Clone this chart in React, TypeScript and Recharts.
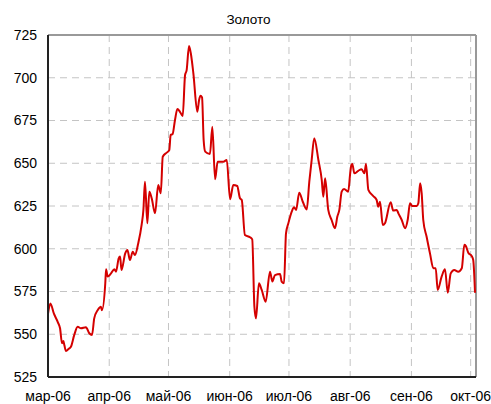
import React from 'react';
import { LineChart, Line, XAxis, YAxis, CartesianGrid, ReferenceLine } from 'recharts';

// day offsets counted from 1 Mar 2006
const days = [
  0, 1.2, 3, 5, 6.1, 7.1, 7.8, 8.3, 9.1, 10.5, 11.6, 13.3, 15, 16.7, 19.2, 20.9, 22.3, 23.4, 25.2, 26.8,
  27.3, 29, 29.4, 30.2, 31.9, 33.6, 34.4, 35.8, 36.5, 37.2, 39.1, 40.2, 41.5, 42.9, 44, 45.7, 47.4, 48.3, 49.1, 50.3,
  51.3, 52.5, 54.2, 55.8, 57.1, 58.1, 60.1, 61.4, 62.1, 63.1, 64.3, 65.5, 66.8, 68.2, 69.4, 70.2, 71.4, 72.3, 73.6, 75.6,
  76.5, 77.2, 78, 78.8, 79.6, 82, 83.2, 84.6, 85.9, 88.8, 90.5, 92.2, 93.8, 95.8, 97.2, 98.1, 99.7, 102.3, 103.4, 104.5,
  105.3, 106.8, 108.2, 110.2, 112.4, 113.6, 114.9, 117.5, 118.3, 119.5, 120.5, 121.7, 123.4, 124.6, 125.6, 127.2, 129, 131, 132.3, 133.5,
  134.8, 136.9, 138.6, 139.4, 140.3, 141.9, 143.6, 145.3, 146.5, 147.5, 148.7, 149.9, 152, 153, 153.6, 154.1, 155.1, 157.1, 158.8, 160.2,
  161, 162.2, 164.7, 166.4, 167.2, 168.1, 169.5, 170.6, 173.5, 174.8, 176.6, 177.4, 179.1, 180.8, 182.1, 183.3, 184.5, 186.7, 187.5, 188.4,
  189.2, 190, 191.7, 193.4, 195.1, 196.3, 197.3, 199.3, 201, 202.4, 203.9, 205.7, 207.7, 209.5, 210.8, 211.5, 212.8, 214.5, 215.3, 216.2,
];

const prices = [
  562, 568, 562, 557, 553.5, 544.7, 546, 543.5, 540.2, 541.5, 542.7, 549.6, 554.4, 553.5, 554.1, 550.6, 549.6, 559.3, 564.2, 566.1,
  564, 579.8, 588, 583.7, 585.6, 588, 586.6, 594.4, 595.4, 587.6, 597.3, 599.3, 593.4, 598.3, 596.3, 603.2, 613.9, 622.7, 639.2, 614.9,
  633.4, 629.5, 620.7, 637.3, 632.4, 653.8, 656.2, 657.7, 666.5, 667.1, 675.3, 681.7, 680.1, 677.6, 701.6, 704.5, 718.6, 714.3, 702.6, 680.1,
  687, 689.5, 688.5, 663.6, 656.8, 655.4, 671.4, 640.6, 650.9, 650.9, 651.9, 628.9, 637.3, 636.7, 629.5, 628.5, 608, 606.7, 605.5, 566.1,
  559.3, 579.8, 575.9, 569, 586.6, 580.8, 584.6, 585.2, 580.8, 579.8, 609, 614.9, 621.7, 624.2, 622.7, 632.8, 627.5, 623, 639.2, 651.9,
  664.6, 651.9, 640.2, 630.4, 641.2, 622.7, 616.8, 612, 618.8, 622.7, 633.4, 634.9, 633.4, 644.1, 649, 649.6, 644.1, 645.6, 646.5, 644.1,
  649.6, 634.4, 630.8, 628.5, 624.6, 627.5, 613.9, 614.9, 627.2, 622.3, 622.7, 620.7, 616.8, 612, 616.8, 626.6, 625, 625, 626.6, 638.3,
  632.4, 616.8, 607, 597.3, 588.6, 588.6, 575.9, 583.7, 588, 574.3, 585.6, 587.6, 586.6, 588.6, 602.3, 601.7, 597.7, 595.8, 593.4, 574.3,
];

const monthTicks = [0, 31, 61, 92, 122, 153, 184, 214];
const monthLabels = ['мар-06', 'апр-06', 'май-06', 'июн-06', 'июл-06', 'авг-06', 'сен-06', 'окт-06'];
const priceTicks = [525, 550, 575, 600, 625, 650, 675, 700, 725];

const data = days.map((d, i) => ({ day: d, price: prices[i] }));
const xMax = 216.7;

const font = 'Arial, "Liberation Sans", sans-serif';

const App = () => {
  return (
    <div style={{ position: 'absolute', left: 0, top: 0, width: 491, height: 404, background: '#fff', fontFamily: font }}>
      <div
        style={{
          position: 'absolute',
          left: 0,
          width: 497,
          top: 12,
          textAlign: 'center',
          fontSize: 13.5,
          color: '#000',
        }}
      >
        Золото
      </div>
      <LineChart width={491} height={404} data={data} margin={{ top: 35, right: 15, bottom: 0, left: 0 }}>
        <CartesianGrid stroke="#c4c4c4" strokeDasharray="7 5" />
        <XAxis
          dataKey="day"
          type="number"
          domain={[0, xMax]}
          ticks={monthTicks}
          interval={0}
          height={27}
          tickFormatter={(v) => monthLabels[monthTicks.indexOf(v)]}
          tickLine={false}
          tickSize={0}
          tickMargin={14}
          axisLine={{ stroke: '#222', strokeWidth: 2 }}
          tick={{ fill: '#000', fontSize: 14, fontFamily: font }}
        />
        <YAxis
          type="number"
          domain={[525, 725]}
          ticks={priceTicks}
          interval={0}
          width={48}
          tickLine={false}
          tickSize={0}
          tickMargin={11}
          axisLine={{ stroke: '#222', strokeWidth: 2 }}
          tick={{ fill: '#000', fontSize: 14, fontFamily: font }}
        />
        <ReferenceLine y={725} stroke="#999" strokeWidth={2} />
        <ReferenceLine x={xMax} stroke="#999" strokeWidth={2} />
        <Line
          type="monotone"
          dataKey="price"
          stroke="#d40000"
          strokeWidth={2}
          dot={false}
          isAnimationActive={false}
        />
      </LineChart>
    </div>
  );
};

export default App;
